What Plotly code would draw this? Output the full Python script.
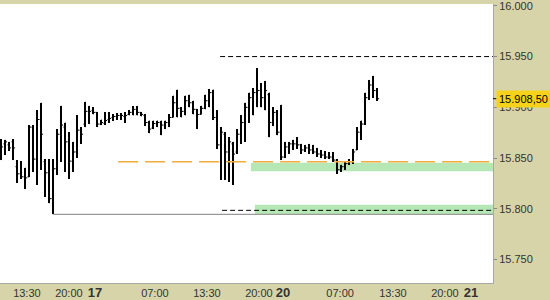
import plotly.graph_objects as go

# ---- data (index points, 30-min bars) ----
highs = [15868.5, 15868, 15866, 15868.5, 15848, 15847, 15840.5, 15882.5, 15882.5, 15897,
         15904.5, 15849, 15849, 15849, 15878.5, 15901.5, 15885, 15875.5, 15866, 15892,
         15880.5, 15905.5, 15901.5, 15900, 15895, 15888, 15895, 15895, 15893, 15894,
         15894, 15895, 15897, 15901, 15901, 15895, 15893, 15887, 15887, 15887,
         15887, 15887, 15893, 15911.5, 15917.5, 15900, 15911.5, 15912.5, 15906.5, 15898,
         15901.5, 15912.5, 15918, 15917.5, 15897, 15880.5, 15875.5, 15870.5, 15866, 15878.5,
         15892, 15904.5, 15914.5, 15919, 15938.5, 15924, 15926, 15914.5, 15900, 15897,
         15902.5, 15866, 15866, 15868, 15870.5, 15864, 15863, 15864, 15863, 15860,
         15858, 15857, 15856, 15856, 15849, 15843.5, 15846.5, 15849, 15859, 15880.5,
         15887, 15914.5, 15927, 15931, 15919]
lows = [15848, 15853, 15857, 15848, 15825.5, 15829.5, 15819.5, 15831.5, 15836.5, 15823.5,
        15838.5, 15812, 15805.5, 15794.5, 15833.5, 15846.5, 15836.5, 15829.5, 15836.5, 15850,
        15864, 15880.5, 15883.5, 15893, 15880.5, 15882.5, 15882.5, 15885, 15887, 15888,
        15888, 15885, 15892, 15892, 15892, 15891, 15881.5, 15874.5, 15878.5, 15880.5,
        15872.5, 15878.5, 15880.5, 15890, 15890, 15890, 15892, 15900, 15893, 15878.5,
        15893, 15898, 15900, 15888, 15859, 15828.5, 15828.5, 15826.5, 15823.5, 15854,
        15864, 15866, 15885, 15892, 15900, 15900, 15897, 15870.5, 15881.5, 15872.5,
        15848, 15850, 15854, 15858, 15859, 15854, 15856, 15854, 15854, 15851,
        15850, 15849, 15849, 15846.5, 15834.5, 15836.5, 15838.5, 15843.5, 15844.5, 15858,
        15868, 15882.5, 15907.5, 15909.5, 15906.5]
opens = [15851, 15864, 15863, 15866, 15841.5, 15834.5, 15831.5, 15831.5, 15880.5, 15849,
         15888, 15846.5, 15835.5, 15810, 15839.5, 15873.5, 15880.5, 15866, 15847, 15856,
         15877.5, 15883.5, 15896, 15897, 15895, 15883.5, 15884, 15888, 15890, 15891,
         15892, 15891, 15893, 15895, 15898, 15895, 15892, 15885, 15879.5, 15884,
         15885, 15882.5, 15885, 15890, 15904.5, 15899, 15896, 15906.5, 15904.5, 15898,
         15893, 15899, 15906.5, 15914.5, 15890, 15863, 15873.5, 15856, 15864, 15856,
         15873.5, 15885, 15900, 15909.5, 15914.5, 15916.5, 15909.5, 15912.5, 15885, 15895,
         15875.5, 15851, 15861, 15864, 15864, 15863, 15858, 15860, 15858, 15856,
         15854, 15853, 15851, 15851, 15848, 15838.5, 15841.5, 15844.5, 15846.5, 15858,
         15875.5, 15883.5, 15909.5, 15922, 15916.5]
closes = [15861, 15866, 15860, 15860, 15834.5, 15831.5, 15830.5, 15880.5, 15849, 15888,
          15873.5, 15835.5, 15810, 15839.5, 15873.5, 15882.5, 15866, 15847, 15856, 15877.5,
          15873.5, 15896, 15896, 15895, 15883.5, 15885, 15887, 15889, 15891, 15892,
          15892, 15892, 15895, 15898, 15895, 15893, 15885, 15878.5, 15884, 15885,
          15882.5, 15885, 15890, 15904.5, 15899, 15896, 15906.5, 15904.5, 15898, 15893,
          15899, 15906.5, 15914.5, 15890, 15863, 15875.5, 15856, 15866, 15854, 15873.5,
          15885, 15900, 15909.5, 15914.5, 15916.5, 15909.5, 15916.5, 15885, 15895, 15875.5,
          15851, 15861, 15864, 15864, 15863, 15858, 15860, 15858, 15856, 15854,
          15853, 15851, 15851, 15848, 15838.5, 15841.5, 15844.5, 15846.5, 15856, 15875.5,
          15883.5, 15909.5, 15922, 15916.5, 15908.5]
bar_index = list(range(len(opens)))

# x tick labels (bar-index positions)
tick_pos = [6.4, 16.9, 23.4, 38.4, 51.4, 64.4, 70.4, 84.7, 97.9, 110.9, 117.4]
tick_labels = ["13:30", "20:00", "17", "07:00", "13:30", "20:00", "20", "07:00", "13:30", "20:00", "21"]
day_labels = {"17", "20", "21"}

y_ticks = [15750, 15800, 15850, 15900, 15950, 16000]

# levels: (price, start bar)
resistance_level = 15950
resistance_start = 54.7
support_dash_level = 15798.5
support_dash_start = 55.2
low_level = 15794.5
low_start = 13
orange_level = 15846.3
orange_start = 29.2
zone1 = (15837, 15845.5)
zone1_start = 62.4
zone2 = (15795, 15804)
zone2_start = 63.4

last_price = closes[-1]

x_range = [-0.325, 122.925]
y_range = [15726.9, 16001.8]

fig = go.Figure()

fig.add_trace(go.Bar(
    x=bar_index, y=[h - l for h, l in zip(highs, lows)], base=lows,
    width=0.36, marker=dict(color="black", line=dict(width=0)),
    hoverinfo="skip", showlegend=False))

fig.add_trace(go.Ohlc(
    x=bar_index, open=opens, high=highs, low=lows, close=closes,
    increasing=dict(line=dict(color="black", width=1)),
    decreasing=dict(line=dict(color="black", width=1)),
    tickwidth=0.45, showlegend=False))

shapes = []
# green zones
for (y0, y1), xs in [(zone1, zone1_start), (zone2, zone2_start)]:
    shapes.append(dict(type="rect", xref="x", yref="y", x0=xs, x1=x_range[1], y0=y0, y1=y1,
                       fillcolor="#b5e8b5", line=dict(width=0), layer="below"))
shapes.append(dict(type="line", xref="x", yref="y", x0=orange_start, x1=x_range[1],
                   y0=orange_level, y1=orange_level,
                   line=dict(color="#f0ac3c", width=1.5, dash="20px,7px")))
shapes.append(dict(type="line", xref="x", yref="y", x0=low_start, x1=x_range[1],
                   y0=low_level, y1=low_level, line=dict(color="#9a9a9a", width=1.2)))
for lvl, xs in [(resistance_level, resistance_start), (support_dash_level, support_dash_start)]:
    shapes.append(dict(type="line", xref="x", yref="y", x0=xs, x1=x_range[1],
                       y0=lvl, y1=lvl, line=dict(color="black", width=1, dash="5px,3px")))
# small marker tick for the price label
shapes.append(dict(type="line", xref="paper", yref="y", x0=1.0, x1=1.007,
                   y0=last_price, y1=last_price, line=dict(color="black", width=1)))

ticktext = [f'<b><span style="font-size:13px">{t}</span></b>' if t in day_labels else t
            for t in tick_labels]

price_txt = f"{last_price:,.2f}".replace(",", "X").replace(".", ",").replace("X", ".")

fig.update_layout(
    width=550, height=300,
    margin=dict(l=0, r=57, t=0, b=17),
    paper_bgcolor="#d8d4a9",
    plot_bgcolor="white",
    separators=",.",
    showlegend=False,
    bargap=0,
    shapes=shapes,
    font=dict(family="Liberation Sans, Arial, sans-serif", size=11, color="#333333"),
    xaxis=dict(range=x_range, tickvals=tick_pos, ticktext=ticktext, ticks="",
               showgrid=False, zeroline=False, showline=True, linecolor="#a8a8a8",
               rangeslider=dict(visible=False), fixedrange=True,
               tickfont=dict(size=11, color="#333333")),
    yaxis=dict(side="right", range=y_range, tickvals=y_ticks, tickformat=",d",
               ticks="outside", ticklen=3, tickcolor="#888888",
               ticklabeloverflow="allow",
               showgrid=False, zeroline=False, showline=True, linecolor="#a8a8a8",
               tickfont=dict(size=11, color="#333333")),
    annotations=[dict(xref="paper", yref="y", x=1.0, y=last_price, xanchor="left",
                      xshift=3, text=price_txt, showarrow=False,
                      bgcolor="#f6d31a", borderpad=2,
                      font=dict(size=11, color="black"))],
)

fig.write_html("out.html")
